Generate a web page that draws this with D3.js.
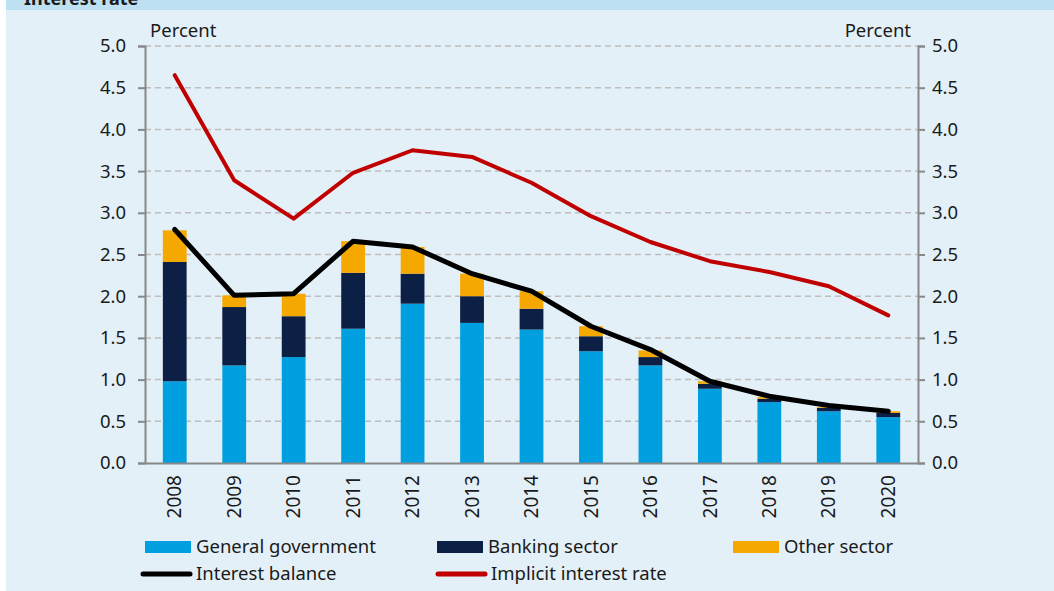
<!DOCTYPE html>
<html lang="en">
<head>
    <meta charset="UTF-8">
    <title>Interest rate</title>
    <script src="https://d3js.org/d3.v7.min.js"></script>
    <style>
        body { margin: 0; background: #fff; }
        text { font-family: "Noto Sans", "Open Sans", sans-serif; fill: #1a1a1a; }
    </style>
</head>
<body>
    <div id="chart"></div>
    <script>
        // Data
        const years = ['2008', '2009', '2010', '2011', '2012', '2013', '2014',
                       '2015', '2016', '2017', '2018', '2019', '2020'];
        const generalGov = [0.98, 1.17, 1.27, 1.61, 1.91, 1.68, 1.60, 1.34, 1.17, 0.89, 0.73, 0.62, 0.55];
        const banking    = [1.43, 0.70, 0.49, 0.67, 0.36, 0.32, 0.25, 0.18, 0.10, 0.06, 0.04, 0.04, 0.05];
        const other      = [0.38, 0.14, 0.27, 0.38, 0.32, 0.27, 0.21, 0.12, 0.08, 0.03, 0.02, 0.01, 0.02];
        const interestBalance = [2.80, 2.01, 2.03, 2.66, 2.59, 2.27, 2.06, 1.64, 1.36, 0.98, 0.80, 0.69, 0.62];
        const implicitRate    = [4.65, 3.39, 2.93, 3.48, 3.75, 3.67, 3.36, 2.96, 2.65, 2.42, 2.29, 2.12, 1.77];
        const yTicks = [0, 0.5, 1, 1.5, 2, 2.5, 3, 3.5, 4, 4.5, 5];

        const W = 1054, H = 591;
        const plotL = 145, plotR = 918, plotT = 46, plotB = 463;
        const fs = 18.5;

        const svg = d3.select('#chart').append('svg')
            .attr('width', W).attr('height', H);

        // Panel background and header band (title is cut off at the top, as in the source)
        svg.append('rect').attr('x', 6).attr('y', 0).attr('width', W - 6).attr('height', H)
            .attr('fill', '#e3f0f7');
        svg.append('rect').attr('x', 6).attr('y', 0).attr('width', W - 6).attr('height', 10)
            .attr('fill', '#bde0f3');
        svg.append('text').attr('x', 24).attr('y', 5)
            .attr('font-size', 18).attr('font-weight', 'bold').text('Interest rate');

        const x = d3.scaleBand().domain(years).range([plotL, plotR]).paddingInner(0.6).paddingOuter(0.3);
        const y = d3.scaleLinear().domain([0, 5]).range([plotB, plotT]);

        // Gridlines
        svg.append('g').selectAll('line').data(yTicks.filter(d => d > 0)).enter().append('line')
            .attr('x1', plotL).attr('x2', plotR)
            .attr('y1', d => y(d)).attr('y2', d => y(d))
            .attr('stroke', '#bdbdbd').attr('stroke-width', 1.5).attr('stroke-dasharray', '6,4');

        // Stacked bars
        const rows = years.map((yr, i) => ({ year: yr, gg: generalGov[i], bank: banking[i], other: other[i] }));
        const stack = d3.stack().keys(['gg', 'bank', 'other'])(rows);
        const colors = { gg: '#009fe0', bank: '#0c1f45', other: '#f5a800' };
        svg.append('g').selectAll('g').data(stack).enter().append('g')
            .attr('fill', d => colors[d.key])
            .selectAll('rect').data(d => d).enter().append('rect')
            .attr('x', d => x(d.data.year))
            .attr('width', x.bandwidth())
            .attr('y', d => y(d[1]))
            .attr('height', d => y(d[0]) - y(d[1]));

        // Axes
        const yl = d3.axisLeft(y).tickValues(yTicks).tickFormat(d3.format('.1f')).tickSize(7).tickPadding(12);
        const yr = d3.axisRight(y).tickValues(yTicks).tickFormat(d3.format('.1f')).tickSize(7).tickPadding(7);
        const gl = svg.append('g').attr('transform', `translate(${plotL},0)`).call(yl);
        const gr = svg.append('g').attr('transform', `translate(${plotR},0)`).call(yr);
        [gl, gr].forEach(g => {
            g.select('.domain').attr('stroke', '#888').attr('stroke-width', 2);
            g.selectAll('.tick line').attr('stroke', '#888').attr('stroke-width', 2);
            g.selectAll('.tick text').attr('font-size', fs).attr('fill', '#1a1a1a')
                .style('font-family', '"Noto Sans", sans-serif');
        });

        const xa = d3.axisBottom(x).tickSize(0).tickPadding(0);
        const gx = svg.append('g').attr('transform', `translate(0,${plotB})`).call(xa);
        gx.select('.domain').attr('stroke', '#888').attr('stroke-width', 2);
        gx.selectAll('.tick text')
            .attr('font-size', fs + 0.5).attr('fill', '#1a1a1a')
            .style('font-family', '"Noto Sans", sans-serif')
            .attr('text-anchor', 'end')
            .attr('transform', 'rotate(-90)')
            .attr('x', -12).attr('y', 0).attr('dy', '0.35em');

        // Lines
        const line = d3.line().x((d, i) => x(years[i]) + x.bandwidth() / 2).y(d => y(d));
        svg.append('path').datum(implicitRate).attr('d', line)
            .attr('fill', 'none').attr('stroke', '#c00000').attr('stroke-width', 4)
            .attr('stroke-linecap', 'round').attr('stroke-linejoin', 'round');
        svg.append('path').datum(interestBalance).attr('d', line)
            .attr('fill', 'none').attr('stroke', '#000').attr('stroke-width', 5)
            .attr('stroke-linecap', 'round').attr('stroke-linejoin', 'round');

        // Axis titles
        svg.append('text').attr('x', 150).attr('y', 37).attr('font-size', fs).text('Percent');
        svg.append('text').attr('x', 911).attr('y', 37).attr('font-size', fs)
            .attr('text-anchor', 'end').text('Percent');

        // Legend
        const legendBars = [
            { label: 'General government', color: colors.gg, x: 145 },
            { label: 'Banking sector', color: colors.bank, x: 437 },
            { label: 'Other sector', color: colors.other, x: 733 }
        ];
        const lb = svg.append('g').selectAll('g').data(legendBars).enter().append('g');
        lb.append('rect').attr('x', d => d.x).attr('y', 541).attr('width', 46).attr('height', 12)
            .attr('fill', d => d.color);
        lb.append('text').attr('x', d => d.x + 51).attr('y', 547).attr('dy', '0.35em')
            .attr('font-size', fs).text(d => d.label);

        const legendLines = [
            { label: 'Interest balance', color: '#000', x: 143 },
            { label: 'Implicit interest rate', color: '#c00000', x: 438 }
        ];
        const ll = svg.append('g').selectAll('g').data(legendLines).enter().append('g');
        ll.append('line').attr('x1', d => d.x).attr('x2', d => d.x + 47)
            .attr('y1', 574).attr('y2', 574)
            .attr('stroke', d => d.color).attr('stroke-width', 5).attr('stroke-linecap', 'round');
        ll.append('text').attr('x', d => d.x + 53).attr('y', 574).attr('dy', '0.35em')
            .attr('font-size', fs).text(d => d.label);
    </script>
</body>
</html>
